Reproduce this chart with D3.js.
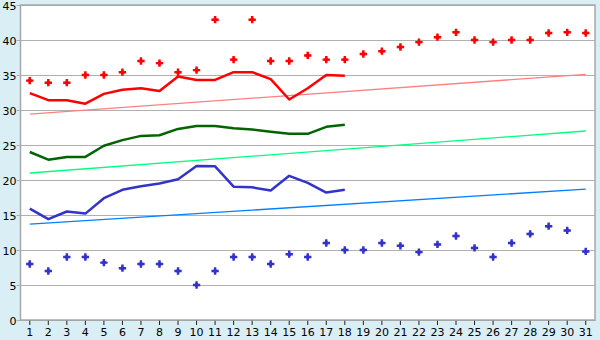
<!DOCTYPE html>
<html>
<head>
<meta charset="utf-8">
<script src="https://cdn.jsdelivr.net/npm/d3@7"></script>
<style>
  body { margin: 0; background: #daeef5; }
  svg { display: block; }
  .tick text { font-family: "DejaVu Sans", sans-serif; font-size: 11px; fill: #000; }
</style>
</head>
<body>
<div id="chart"></div>
<script>
// days on the x axis
var days = d3.range(1, 32);

// upper scatter (red diamonds)
var highPoints = [34.2, 33.9, 33.9, 35, 35, 35.4, 37, 36.7, 35.4, 35.7,
                  42.9, 37.2, 42.9, 37, 37, 37.8, 37.2, 37.2, 38, 38.4,
                  39, 39.7, 40.4, 41.1, 40, 39.7, 40, 40, 41, 41.1, 41];

// lower scatter (blue diamonds)
var lowPoints = [8, 7, 9, 9, 8.2, 7.4, 8, 8, 7, 5,
                 7, 9, 9, 8, 9.4, 9, 11, 10, 10, 11,
                 10.6, 9.7, 10.8, 12, 10.3, 9, 11, 12.3, 13.4, 12.8, 9.8];

// averaged lines, days 1-18
var redLine = [32.4, 31.4, 31.4, 30.9, 32.3, 32.9, 33.1, 32.7, 34.8, 34.3,
               34.3, 35.4, 35.4, 34.4, 31.5, 33.1, 35, 34.9];
var greenLine = [24, 22.9, 23.3, 23.3, 24.9, 25.7, 26.3, 26.4, 27.3, 27.7,
                 27.7, 27.4, 27.2, 26.9, 26.6, 26.6, 27.6, 27.9];
var blueLine = [15.9, 14.4, 15.5, 15.2, 17.4, 18.6, 19.1, 19.5, 20.1, 22,
                21.95, 19.05, 18.95, 18.5, 20.6, 19.6, 18.2, 18.6];

// trend lines, start (day 1) and end (day 31)
var redTrend = [29.4, 35.1];
var greenTrend = [21, 27];
var blueTrend = [13.7, 18.7];

var yTicks = d3.range(0, 50, 5);

var width = 600, height = 340;
var margin = {top: 5, right: 5, bottom: 20, left: 20.5};
var innerW = width - margin.left - margin.right,
    innerH = height - margin.top - margin.bottom;

var svg = d3.select("#chart").append("svg")
    .attr("width", width)
    .attr("height", height);

var g = svg.append("g")
    .attr("transform", "translate(" + margin.left + "," + margin.top + ")");

var x = d3.scaleBand().domain(days).range([0, innerW]);
var y = d3.scaleLinear().domain([0, 45]).range([innerH, 0]);
var cx = function(d) { return x(d) + x.bandwidth() / 2; };

//plot background
g.append("rect")
    .attr("width", innerW)
    .attr("height", innerH)
    .attr("fill", "#ffffff");

//gridlines with y axis ticks
var yAxis = g.append("g")
    .call(d3.axisLeft(y).tickValues(yTicks).tickSize(-innerW).tickSizeOuter(0));
yAxis.select(".domain").remove();
yAxis.selectAll(".tick line")
    .attr("x1", -4)
    .attr("stroke", "#b0b0b0");
yAxis.selectAll(".tick text")
    .attr("x", -4)
    .attr("dy", "0.45em");

//x axis
var xAxis = g.append("g")
    .attr("transform", "translate(0," + innerH + ")")
    .call(d3.axisBottom(x).tickSize(5).tickSizeOuter(0).tickPadding(3));
xAxis.select(".domain").attr("stroke", "#a0a0a0");
xAxis.selectAll(".tick line").attr("stroke", "#222");

//plot border
g.append("rect")
    .attr("width", innerW)
    .attr("height", innerH)
    .attr("fill", "none")
    .attr("stroke", "#a8a8a8")
    .attr("stroke-width", 1.5);

//trend lines
var trendLine = d3.line()
    .x(function(d, i) { return cx(i === 0 ? days[0] : days[days.length - 1]); })
    .y(function(d) { return y(d); });

[[redTrend, "#ff8080"], [greenTrend, "#00ff80"], [blueTrend, "#0080ff"]].forEach(function(t) {
    g.append("path")
        .datum(t[0])
        .attr("d", trendLine)
        .attr("fill", "none")
        .attr("stroke", t[1])
        .attr("stroke-width", 1.3);
});

//main lines
var line = d3.line()
    .x(function(d, i) { return cx(days[i]); })
    .y(function(d) { return y(d); });

[[redLine, "#ff0000"], [greenLine, "#006400"], [blueLine, "#3333cc"]].forEach(function(l) {
    g.append("path")
        .datum(l[0])
        .attr("d", line)
        .attr("fill", "none")
        .attr("stroke", l[1])
        .attr("stroke-width", 2.5)
        .attr("stroke-linejoin", "round");
});

//scatter markers: cross over a small diamond
var cross = d3.symbol().type(d3.symbolCross).size(30);
var diamond = d3.symbol().type(d3.symbolDiamond2).size(20);

[[highPoints, "#ff0000"], [lowPoints, "#3333cc"]].forEach(function(s) {
    var pts = g.append("g").selectAll("g")
        .data(s[0]).enter()
        .append("g")
        .attr("transform", function(d, i) { return "translate(" + cx(days[i]) + "," + y(d) + ")"; })
        .attr("fill", s[1]);
    pts.append("path").attr("d", cross);
    pts.append("path").attr("d", diamond);
});
</script>
</body>
</html>
